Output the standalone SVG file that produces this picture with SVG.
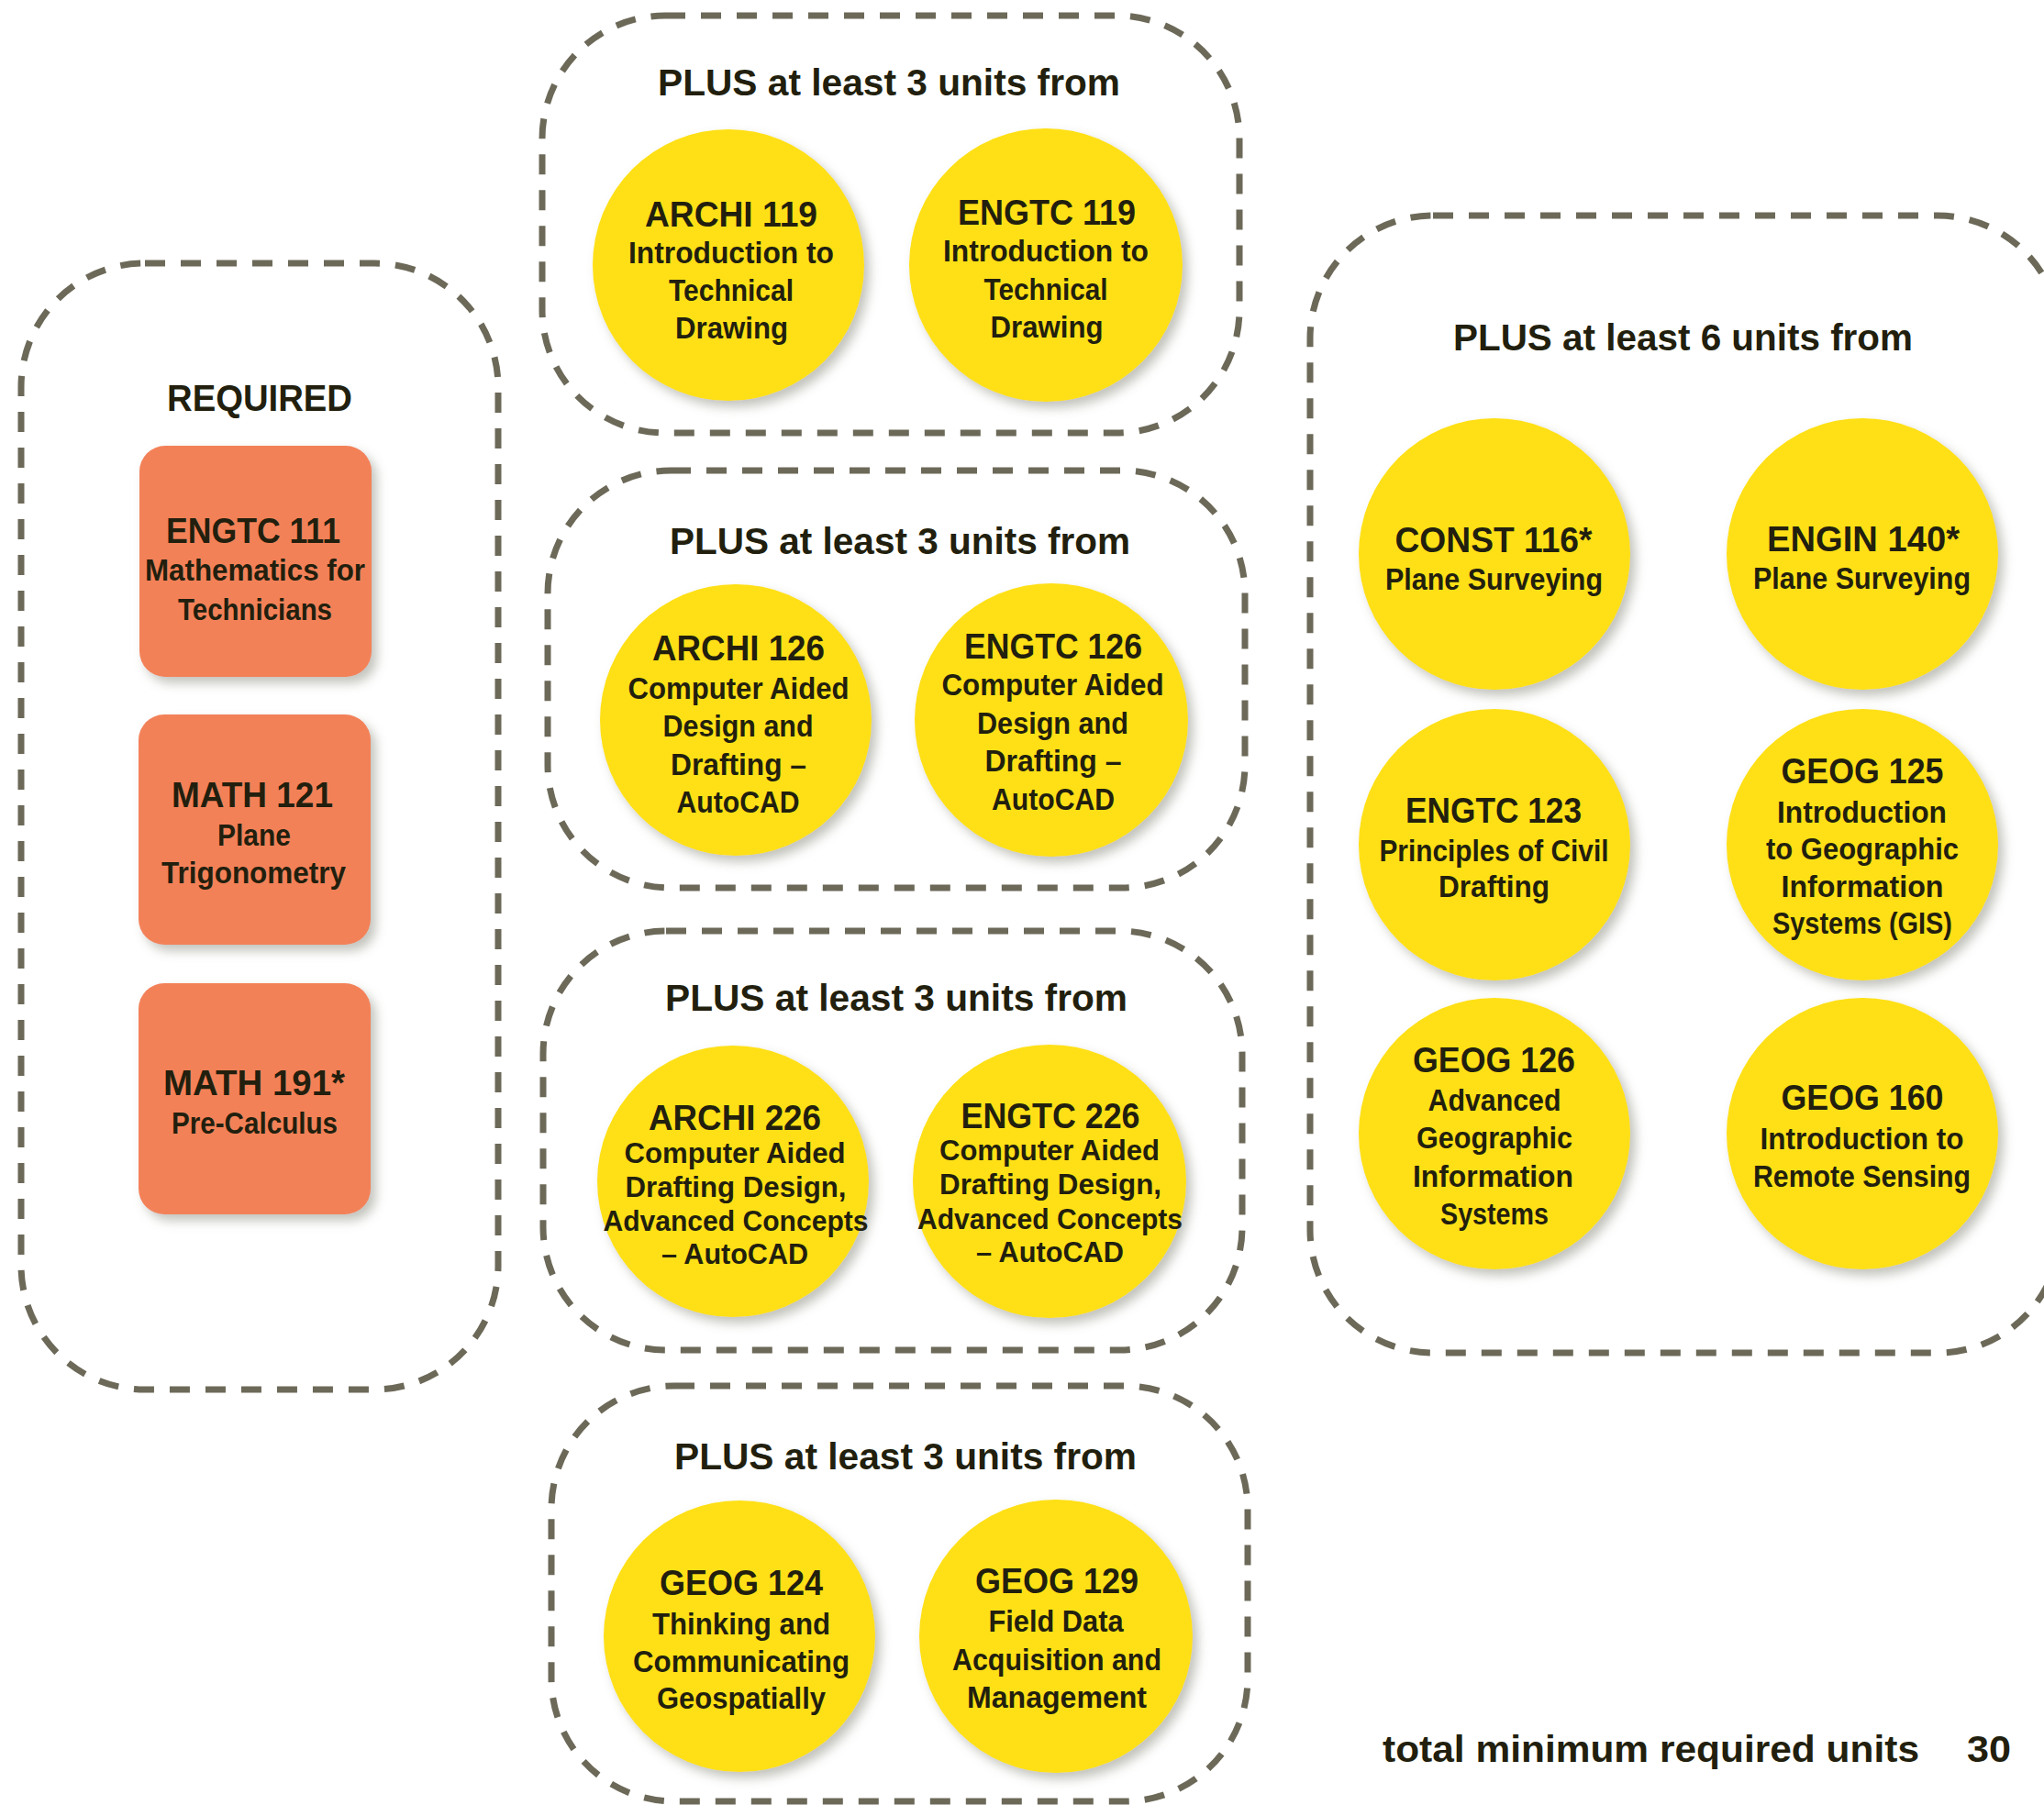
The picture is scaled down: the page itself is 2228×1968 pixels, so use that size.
<svg xmlns="http://www.w3.org/2000/svg" width="2228" height="1968" viewBox="0 0 2228 1968">
<defs>
<filter id="sh" x="-20%" y="-20%" width="150%" height="150%">
<feDropShadow dx="6" dy="7" stdDeviation="6" flood-color="#7d7b6e" flood-opacity="0.45"/>
</filter>
<style>
.box{fill:none;stroke:#6c6959;stroke-width:7;stroke-dasharray:22 17;}
.c{fill:#FFE012;filter:url(#sh);}
.r{fill:#F38159;filter:url(#sh);}
text{font-family:"Liberation Sans",Arial,sans-serif;font-weight:bold;fill:#221f0e;text-anchor:middle;}
.h{font-size:41px;}
.t{font-size:38px;}
.s{font-size:33px;}
.s2{font-size:31px;}
</style>
</defs>
<rect width="2228" height="1968" fill="#ffffff"/>

<g id="group-required">
<rect class="box" x="23" y="287" width="520" height="1228" rx="135" ry="135"/>
<text class="h" x="283" y="448" textLength="202" lengthAdjust="spacingAndGlyphs">REQUIRED</text>
<g id="engtc111">
<rect class="r" x="152" y="486" width="253" height="252" rx="28" ry="28"/>
<text class="t" x="276" y="592" textLength="190" lengthAdjust="spacingAndGlyphs">ENGTC 111</text>
<text class="s" x="278" y="633" textLength="240" lengthAdjust="spacingAndGlyphs">Mathematics for</text>
<text class="s" x="278" y="676" textLength="168" lengthAdjust="spacingAndGlyphs">Technicians</text>
</g>
<g id="math121">
<rect class="r" x="151" y="779" width="253" height="251" rx="28" ry="28"/>
<text class="t" x="275" y="880" textLength="176" lengthAdjust="spacingAndGlyphs">MATH 121</text>
<text class="s" x="277" y="922" textLength="80" lengthAdjust="spacingAndGlyphs">Plane</text>
<text class="s" x="276.5" y="963" textLength="201" lengthAdjust="spacingAndGlyphs">Trigonometry</text>
</g>
<g id="math191">
<rect class="r" x="151" y="1072" width="253" height="252" rx="28" ry="28"/>
<text class="t" x="277" y="1194" textLength="198" lengthAdjust="spacingAndGlyphs">MATH 191*</text>
<text class="s" x="277.5" y="1236" textLength="181" lengthAdjust="spacingAndGlyphs">Pre-Calculus</text>
</g>
</g>

<g id="group-technical-drawing">
<rect class="box" x="591" y="17" width="760" height="455" rx="134" ry="134"/>
<text class="h" x="969" y="104" textLength="504" lengthAdjust="spacingAndGlyphs">PLUS at least 3 units from</text>
<g id="archi119">
<circle class="c" cx="794" cy="289" r="148"/>
<text class="t" x="797" y="247" textLength="188" lengthAdjust="spacingAndGlyphs">ARCHI 119</text>
<text class="s" x="797" y="287" textLength="224" lengthAdjust="spacingAndGlyphs">Introduction to</text>
<text class="s" x="797" y="328" textLength="136" lengthAdjust="spacingAndGlyphs">Technical</text>
<text class="s" x="797.5" y="369" textLength="123" lengthAdjust="spacingAndGlyphs">Drawing</text>
</g>
<g id="engtc119">
<circle class="c" cx="1140" cy="289" r="149"/>
<text class="t" x="1141" y="245" textLength="194" lengthAdjust="spacingAndGlyphs">ENGTC 119</text>
<text class="s" x="1140" y="285" textLength="224" lengthAdjust="spacingAndGlyphs">Introduction to</text>
<text class="s" x="1140" y="327" textLength="135" lengthAdjust="spacingAndGlyphs">Technical</text>
<text class="s" x="1141" y="368" textLength="123" lengthAdjust="spacingAndGlyphs">Drawing</text>
</g>
</g>

<g id="group-cad">
<rect class="box" x="597" y="513" width="760" height="455" rx="134" ry="134"/>
<text class="h" x="981" y="604" textLength="502" lengthAdjust="spacingAndGlyphs">PLUS at least 3 units from</text>
<g id="archi126">
<circle class="c" cx="802" cy="785" r="148"/>
<text class="t" x="805" y="720" textLength="188" lengthAdjust="spacingAndGlyphs">ARCHI 126</text>
<text class="s" x="805" y="762" textLength="241" lengthAdjust="spacingAndGlyphs">Computer Aided</text>
<text class="s" x="804.5" y="803" textLength="164" lengthAdjust="spacingAndGlyphs">Design and</text>
<text class="s" x="805" y="845" textLength="148" lengthAdjust="spacingAndGlyphs">Drafting –</text>
<text class="s" x="804.5" y="886" textLength="134" lengthAdjust="spacingAndGlyphs">AutoCAD</text>
</g>
<g id="engtc126">
<circle class="c" cx="1146" cy="785" r="149"/>
<text class="t" x="1148" y="718" textLength="194" lengthAdjust="spacingAndGlyphs">ENGTC 126</text>
<text class="s" x="1147.5" y="758" textLength="242" lengthAdjust="spacingAndGlyphs">Computer Aided</text>
<text class="s" x="1147.5" y="800" textLength="165" lengthAdjust="spacingAndGlyphs">Design and</text>
<text class="s" x="1148" y="841" textLength="149" lengthAdjust="spacingAndGlyphs">Drafting –</text>
<text class="s" x="1148" y="883" textLength="134" lengthAdjust="spacingAndGlyphs">AutoCAD</text>
</g>
</g>

<g id="group-cad-advanced">
<rect class="box" x="592" y="1015" width="762" height="457" rx="134" ry="134"/>
<text class="h" x="977" y="1102" textLength="504" lengthAdjust="spacingAndGlyphs">PLUS at least 3 units from</text>
<g id="archi226">
<circle class="c" cx="799" cy="1288" r="148"/>
<text class="t" x="801" y="1232" textLength="188" lengthAdjust="spacingAndGlyphs">ARCHI 226</text>
<text class="s2" x="801" y="1268" textLength="241" lengthAdjust="spacingAndGlyphs">Computer Aided</text>
<text class="s2" x="802" y="1305" textLength="241" lengthAdjust="spacingAndGlyphs">Drafting Design,</text>
<text class="s2" x="802" y="1342" textLength="289" lengthAdjust="spacingAndGlyphs">Advanced Concepts</text>
<text class="s2" x="801" y="1378" textLength="160" lengthAdjust="spacingAndGlyphs">– AutoCAD</text>
</g>
<g id="engtc226">
<circle class="c" cx="1144" cy="1288" r="149"/>
<text class="t" x="1145" y="1230" textLength="195" lengthAdjust="spacingAndGlyphs">ENGTC 226</text>
<text class="s2" x="1144" y="1265" textLength="240" lengthAdjust="spacingAndGlyphs">Computer Aided</text>
<text class="s2" x="1145" y="1302" textLength="242" lengthAdjust="spacingAndGlyphs">Drafting Design,</text>
<text class="s2" x="1144.5" y="1340" textLength="289" lengthAdjust="spacingAndGlyphs">Advanced Concepts</text>
<text class="s2" x="1144.5" y="1376" textLength="161" lengthAdjust="spacingAndGlyphs">– AutoCAD</text>
</g>
</g>

<g id="group-geospatial">
<rect class="box" x="601" y="1511" width="759" height="453" rx="134" ry="134"/>
<text class="h" x="987" y="1602" textLength="504" lengthAdjust="spacingAndGlyphs">PLUS at least 3 units from</text>
<g id="geog124">
<circle class="c" cx="806" cy="1784" r="148"/>
<text class="t" x="808" y="1739" textLength="178" lengthAdjust="spacingAndGlyphs">GEOG 124</text>
<text class="s" x="808" y="1782" textLength="194" lengthAdjust="spacingAndGlyphs">Thinking and</text>
<text class="s" x="808" y="1823" textLength="236" lengthAdjust="spacingAndGlyphs">Communicating</text>
<text class="s" x="808" y="1863" textLength="184" lengthAdjust="spacingAndGlyphs">Geospatially</text>
</g>
<g id="geog129">
<circle class="c" cx="1151" cy="1784" r="149"/>
<text class="t" x="1152" y="1737" textLength="178" lengthAdjust="spacingAndGlyphs">GEOG 129</text>
<text class="s" x="1151" y="1779" textLength="147" lengthAdjust="spacingAndGlyphs">Field Data</text>
<text class="s" x="1152" y="1821" textLength="228" lengthAdjust="spacingAndGlyphs">Acquisition and</text>
<text class="s" x="1152" y="1862" textLength="196" lengthAdjust="spacingAndGlyphs">Management</text>
</g>
</g>

<g id="group-six-units">
<rect class="box" x="1428" y="235" width="818" height="1240" rx="134" ry="134"/>
<text class="h" x="1834.5" y="382" textLength="501" lengthAdjust="spacingAndGlyphs">PLUS at least 6 units from</text>
<g id="const116">
<circle class="c" cx="1629" cy="604" r="148"/>
<text class="t" x="1628" y="602" textLength="215" lengthAdjust="spacingAndGlyphs">CONST 116*</text>
<text class="s" x="1628.5" y="643" textLength="237" lengthAdjust="spacingAndGlyphs">Plane Surveying</text>
</g>
<g id="engin140">
<circle class="c" cx="2030" cy="604" r="148"/>
<text class="t" x="2031" y="601" textLength="210" lengthAdjust="spacingAndGlyphs">ENGIN 140*</text>
<text class="s" x="2029.5" y="642" textLength="237" lengthAdjust="spacingAndGlyphs">Plane Surveying</text>
</g>
<g id="engtc123">
<circle class="c" cx="1629" cy="921" r="148"/>
<text class="t" x="1628" y="897" textLength="192" lengthAdjust="spacingAndGlyphs">ENGTC 123</text>
<text class="s" x="1628.5" y="939" textLength="250" lengthAdjust="spacingAndGlyphs">Principles of Civil</text>
<text class="s" x="1628.5" y="978" textLength="121" lengthAdjust="spacingAndGlyphs">Drafting</text>
</g>
<g id="geog125">
<circle class="c" cx="2030" cy="921" r="148"/>
<text class="t" x="2030" y="854" textLength="177" lengthAdjust="spacingAndGlyphs">GEOG 125</text>
<text class="s" x="2029.5" y="897" textLength="185" lengthAdjust="spacingAndGlyphs">Introduction</text>
<text class="s" x="2030" y="937" textLength="210" lengthAdjust="spacingAndGlyphs">to Geographic</text>
<text class="s" x="2030" y="978" textLength="177" lengthAdjust="spacingAndGlyphs">Information</text>
<text class="s" x="2030" y="1018" textLength="196" lengthAdjust="spacingAndGlyphs">Systems (GIS)</text>
</g>
<g id="geog126">
<circle class="c" cx="1629" cy="1236" r="148"/>
<text class="t" x="1628.5" y="1169" textLength="177" lengthAdjust="spacingAndGlyphs">GEOG 126</text>
<text class="s" x="1629" y="1211" textLength="145" lengthAdjust="spacingAndGlyphs">Advanced</text>
<text class="s" x="1629" y="1252" textLength="170" lengthAdjust="spacingAndGlyphs">Geographic</text>
<text class="s" x="1627.5" y="1294" textLength="175" lengthAdjust="spacingAndGlyphs">Information</text>
<text class="s" x="1629" y="1335" textLength="118" lengthAdjust="spacingAndGlyphs">Systems</text>
</g>
<g id="geog160">
<circle class="c" cx="2030" cy="1236" r="148"/>
<text class="t" x="2030" y="1210" textLength="177" lengthAdjust="spacingAndGlyphs">GEOG 160</text>
<text class="s" x="2029.5" y="1253" textLength="222" lengthAdjust="spacingAndGlyphs">Introduction to</text>
<text class="s" x="2029.5" y="1294" textLength="237" lengthAdjust="spacingAndGlyphs">Remote Sensing</text>
</g>
</g>

<g id="connectors"></g>

<g id="total">
<text class="h" x="1507" y="1921" style="text-anchor:start" textLength="585" lengthAdjust="spacingAndGlyphs">total minimum required units</text>
<text class="h" x="2144" y="1921" style="text-anchor:start" textLength="48" lengthAdjust="spacingAndGlyphs">30</text>
</g>
</svg>
